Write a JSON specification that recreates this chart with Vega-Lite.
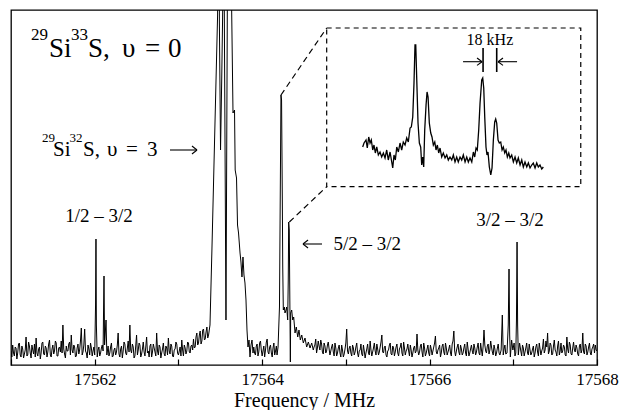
{
  "$schema": "https://vega.github.io/schema/vega-lite/v6.json",
  "width": 586,
  "height": 355,
  "autosize": {"type": "none"},
  "padding": {"left": 11, "top": 10, "right": 24, "bottom": 45},
  "background": "white",
  "config": {
    "view": {"stroke": "black", "strokeWidth": 1.3},
    "font": "Liberation Serif",
    "text": {"font": "Liberation Serif", "color": "black"}
  },
  "layer": [
    {
      "data": {"values": [
        {"f":17561.00,"v":14},{"f":17561.01,"v":8},{"f":17561.02,"v":20},{"f":17561.03,"v":12},{"f":17561.04,"v":9},{"f":17561.05,"v":18},{"f":17561.06,"v":17},{"f":17561.07,"v":6},{"f":17561.08,"v":12},{"f":17561.09,"v":21},
        {"f":17561.10,"v":22},{"f":17561.11,"v":10},{"f":17561.12,"v":8},{"f":17561.13,"v":19},{"f":17561.14,"v":16},{"f":17561.15,"v":7},{"f":17561.16,"v":11},{"f":17561.17,"v":15},{"f":17561.18,"v":28},{"f":17561.19,"v":9},
        {"f":17561.20,"v":10},{"f":17561.21,"v":23},{"f":17561.22,"v":19},{"f":17561.23,"v":12},{"f":17561.24,"v":7},{"f":17561.25,"v":20},{"f":17561.26,"v":15},{"f":17561.27,"v":11},{"f":17561.28,"v":21},{"f":17561.29,"v":8},
        {"f":17561.30,"v":27},{"f":17561.31,"v":12},{"f":17561.32,"v":9},{"f":17561.33,"v":16},{"f":17561.34,"v":18},{"f":17561.35,"v":6},{"f":17561.36,"v":12},{"f":17561.37,"v":22},{"f":17561.38,"v":23},{"f":17561.39,"v":11},
        {"f":17561.40,"v":10},{"f":17561.41,"v":19},{"f":17561.42,"v":17},{"f":17561.43,"v":8},{"f":17561.44,"v":13},{"f":17561.45,"v":21},{"f":17561.46,"v":25},{"f":17561.47,"v":10},{"f":17561.48,"v":8},{"f":17561.49,"v":16},
        {"f":17561.50,"v":20},{"f":17561.51,"v":11},{"f":17561.52,"v":14},{"f":17561.53,"v":24},{"f":17561.54,"v":22},{"f":17561.55,"v":9},{"f":17561.56,"v":9},{"f":17561.57,"v":17},{"f":17561.58,"v":18},{"f":17561.59,"v":13},
        {"f":17561.60,"v":24},{"f":17561.61,"v":12},{"f":17561.62,"v":40},{"f":17561.63,"v":16},{"f":17561.64,"v":11},{"f":17561.65,"v":7},{"f":17561.66,"v":19},{"f":17561.67,"v":14},{"f":17561.68,"v":14},{"f":17561.69,"v":21},
        {"f":17561.70,"v":23},{"f":17561.71,"v":10},{"f":17561.72,"v":30},{"f":17561.73,"v":15},{"f":17561.74,"v":12},{"f":17561.75,"v":20},{"f":17561.76,"v":18},{"f":17561.77,"v":8},{"f":17561.78,"v":9},{"f":17561.79,"v":17},
        {"f":17561.80,"v":21},{"f":17561.81,"v":11},{"f":17561.82,"v":15},{"f":17561.83,"v":24},{"f":17561.84,"v":37},{"f":17561.85,"v":10},{"f":17561.86,"v":13},{"f":17561.87,"v":20},{"f":17561.88,"v":36},{"f":17561.89,"v":14},
        {"f":17561.90,"v":12},{"f":17561.91,"v":7},{"f":17561.92,"v":20},{"f":17561.93,"v":16},{"f":17561.94,"v":10},{"f":17561.95,"v":22},{"f":17561.96,"v":17},{"f":17561.97,"v":9},{"f":17561.98,"v":14},{"f":17561.99,"v":18},
        {"f":17562.00,"v":10},{"f":17562.01,"v":60},{"f":17562.015,"v":126},{"f":17562.02,"v":40},{"f":17562.03,"v":8},{"f":17562.04,"v":15},{"f":17562.05,"v":18},{"f":17562.06,"v":9},{"f":17562.07,"v":12},{"f":17562.08,"v":17},{"f":17562.09,"v":20},{"f":17562.10,"v":14},{"f":17562.105,"v":50},
        {"f":17562.111,"v":89},{"f":17562.118,"v":20},{"f":17562.125,"v":30},{"f":17562.135,"v":45},{"f":17562.145,"v":10},{"f":17562.16,"v":19},
        {"f":17562.17,"v":9},{"f":17562.18,"v":12},{"f":17562.19,"v":18},{"f":17562.20,"v":22},{"f":17562.21,"v":8},{"f":17562.22,"v":9},{"f":17562.23,"v":15},{"f":17562.24,"v":17},{"f":17562.25,"v":10},{"f":17562.26,"v":13},
        {"f":17562.27,"v":20},{"f":17562.28,"v":32},{"f":17562.29,"v":11},{"f":17562.30,"v":8},{"f":17562.31,"v":16},{"f":17562.32,"v":19},{"f":17562.33,"v":7},{"f":17562.34,"v":14},{"f":17562.35,"v":23},{"f":17562.36,"v":21},
        {"f":17562.37,"v":12},{"f":17562.38,"v":10},{"f":17562.39,"v":17},{"f":17562.40,"v":24},{"f":17562.41,"v":13},{"f":17562.42,"v":40},{"f":17562.43,"v":15},{"f":17562.44,"v":12},{"f":17562.45,"v":21},{"f":17562.46,"v":18},
        {"f":17562.47,"v":7},{"f":17562.48,"v":9},{"f":17562.49,"v":19},{"f":17562.50,"v":30},{"f":17562.51,"v":10},{"f":17562.52,"v":15},{"f":17562.53,"v":22},{"f":17562.54,"v":20},{"f":17562.55,"v":8},{"f":17562.56,"v":11},
        {"f":17562.57,"v":16},{"f":17562.58,"v":23},{"f":17562.59,"v":13},{"f":17562.60,"v":9},{"f":17562.61,"v":18},{"f":17562.62,"v":28},{"f":17562.63,"v":12},{"f":17562.64,"v":14},{"f":17562.65,"v":8},{"f":17562.66,"v":19},
        {"f":17562.67,"v":21},{"f":17562.68,"v":8},{"f":17562.69,"v":13},{"f":17562.70,"v":21},{"f":17562.71,"v":17},{"f":17562.72,"v":13},{"f":17562.73,"v":9},{"f":17562.74,"v":32},{"f":17562.75,"v":14},{"f":17562.76,"v":10},
        {"f":17562.77,"v":20},{"f":17562.78,"v":18},{"f":17562.79,"v":7},{"f":17562.80,"v":12},{"f":17562.81,"v":16},{"f":17562.82,"v":22},{"f":17562.83,"v":11},{"f":17562.84,"v":9},{"f":17562.85,"v":19},{"f":17562.86,"v":17},
        {"f":17562.87,"v":10},{"f":17562.88,"v":27},{"f":17562.89,"v":14},{"f":17562.90,"v":11},{"f":17562.91,"v":21},{"f":17562.92,"v":19},{"f":17562.93,"v":9},{"f":17562.94,"v":8},{"f":17562.95,"v":15},{"f":17562.96,"v":16},
        {"f":17562.97,"v":23},{"f":17562.98,"v":21},{"f":17562.99,"v":12},{"f":17563.00,"v":10},{"f":17563.01,"v":14},{"f":17563.02,"v":18},{"f":17563.03,"v":9},{"f":17563.04,"v":25},{"f":17563.05,"v":15},{"f":17563.06,"v":9},
        {"f":17563.07,"v":20},{"f":17563.08,"v":17},{"f":17563.09,"v":11},{"f":17563.10,"v":14},{"f":17563.11,"v":23},{"f":17563.12,"v":22},{"f":17563.13,"v":13},{"f":17563.14,"v":12},{"f":17563.15,"v":19},{"f":17563.16,"v":20},
        {"f":17563.17,"v":15},{"f":17563.18,"v":26},{"f":17563.19,"v":17},{"f":17563.20,"v":18},{"f":17563.21,"v":28},{"f":17563.22,"v":32},{"f":17563.23,"v":20},{"f":17563.24,"v":22},{"f":17563.25,"v":30},{"f":17563.26,"v":34},
        {"f":17563.27,"v":21},{"f":17563.28,"v":24},{"f":17563.29,"v":35},{"f":17563.30,"v":36},{"f":17563.31,"v":25},{"f":17563.32,"v":26},{"f":17563.33,"v":33},{"f":17563.34,"v":38},{"f":17563.35,"v":27},{"f":17563.36,"v":30},
        {"f":17563.377,"v":40},{"f":17563.401,"v":118},{"f":17563.468,"v":350},{"f":17563.478,"v":2365},{"f":17563.489,"v":345},{"f":17563.503,"v":215},{"f":17563.517,"v":285},{"f":17563.529,"v":355},{"f":17563.538,"v":2365},{"f":17563.548,"v":355},
        {"f":17563.568,"v":45},{"f":17563.584,"v":355},{"f":17563.610,"v":2365},{"f":17563.636,"v":355},{"f":17563.652,"v":252},{"f":17563.670,"v":255},{"f":17563.678,"v":195},{"f":17563.694,"v":187},{"f":17563.706,"v":140},{"f":17563.718,"v":132},
        {"f":17563.736,"v":112},{"f":17563.747,"v":103},{"f":17563.759,"v":88},{"f":17563.771,"v":108},{"f":17563.783,"v":90},{"f":17563.795,"v":82},{"f":17563.807,"v":65},{"f":17563.819,"v":35},{"f":17563.831,"v":18},{"f":17563.843,"v":25},
        {"f":17563.855,"v":8},{"f":17563.867,"v":20},{"f":17563.879,"v":25},{"f":17563.891,"v":12},
        {"f":17563.90,"v":18},{"f":17563.91,"v":12},{"f":17563.92,"v":10},{"f":17563.93,"v":19},{"f":17563.94,"v":21},{"f":17563.95,"v":9},{"f":17563.96,"v":13},{"f":17563.97,"v":22},{"f":17563.98,"v":24},{"f":17563.99,"v":15},
        {"f":17564.00,"v":9},{"f":17564.01,"v":14},{"f":17564.02,"v":19},{"f":17564.03,"v":8},{"f":17564.04,"v":15},{"f":17564.05,"v":23},{"f":17564.06,"v":26},{"f":17564.07,"v":13},{"f":17564.08,"v":11},{"f":17564.09,"v":18},
        {"f":17564.10,"v":20},{"f":17564.11,"v":12},{"f":17564.12,"v":8},{"f":17564.13,"v":17},{"f":17564.14,"v":22},{"f":17564.15,"v":10},{"f":17564.16,"v":14},{"f":17564.17,"v":19},
        {"f":17564.178,"v":10},{"f":17564.190,"v":18},{"f":17564.207,"v":58},{"f":17564.216,"v":165},{"f":17564.225,"v":270},{"f":17564.232,"v":265},{"f":17564.241,"v":165},{"f":17564.246,"v":98},{"f":17564.253,"v":55},{"f":17564.265,"v":58},
        {"f":17564.273,"v":52},{"f":17564.285,"v":55},{"f":17564.293,"v":58},{"f":17564.305,"v":45},{"f":17564.312,"v":85},{"f":17564.317,"v":143},{"f":17564.324,"v":135},{"f":17564.329,"v":85},{"f":17564.337,"v":3},{"f":17564.341,"v":52},
        {"f":17564.353,"v":55},{"f":17564.365,"v":45},{"f":17564.377,"v":48},{"f":17564.393,"v":32},{"f":17564.408,"v":38},{"f":17564.425,"v":28},{"f":17564.440,"v":35},{"f":17564.456,"v":25},{"f":17564.473,"v":30},{"f":17564.492,"v":22},
        {"f":17564.512,"v":27},{"f":17564.532,"v":18},{"f":17564.552,"v":23},{"f":17564.572,"v":17},{"f":17564.592,"v":22},{"f":17564.611,"v":15},
        {"f":17564.62,"v":18},{"f":17564.63,"v":20},{"f":17564.64,"v":26},{"f":17564.65,"v":12},{"f":17564.66,"v":17},{"f":17564.67,"v":24},{"f":17564.68,"v":19},{"f":17564.69,"v":15},{"f":17564.70,"v":25},{"f":17564.71,"v":21},
        {"f":17564.72,"v":13},{"f":17564.73,"v":11},{"f":17564.74,"v":22},{"f":17564.75,"v":19},{"f":17564.76,"v":12},{"f":17564.77,"v":14},{"f":17564.78,"v":20},{"f":17564.79,"v":23},{"f":17564.80,"v":16},{"f":17564.81,"v":10},
        {"f":17564.82,"v":14},{"f":17564.83,"v":18},{"f":17564.84,"v":21},{"f":17564.85,"v":13},{"f":17564.86,"v":9},{"f":17564.87,"v":22},{"f":17564.88,"v":17},{"f":17564.89,"v":9},{"f":17564.90,"v":12},{"f":17564.91,"v":17},
        {"f":17564.92,"v":20},{"f":17564.93,"v":12},{"f":17564.94,"v":8},{"f":17564.95,"v":20},{"f":17564.96,"v":15},{"f":17564.97,"v":8},{"f":17564.98,"v":11},{"f":17564.99,"v":16},
        {"f":17565.00,"v":22},{"f":17565.01,"v":36},{"f":17565.02,"v":14},{"f":17565.03,"v":11},{"f":17565.04,"v":17},{"f":17565.05,"v":19},{"f":17565.06,"v":12},{"f":17565.07,"v":9},{"f":17565.08,"v":20},{"f":17565.09,"v":17},
        {"f":17565.10,"v":10},{"f":17565.11,"v":13},{"f":17565.12,"v":18},{"f":17565.13,"v":22},{"f":17565.14,"v":12},{"f":17565.15,"v":8},{"f":17565.16,"v":14},{"f":17565.17,"v":15},{"f":17565.18,"v":21},{"f":17565.19,"v":11},
        {"f":17565.20,"v":9},{"f":17565.21,"v":20},{"f":17565.22,"v":14},{"f":17565.23,"v":7},{"f":17565.24,"v":12},{"f":17565.25,"v":16},{"f":17565.26,"v":21},{"f":17565.27,"v":12},{"f":17565.28,"v":10},{"f":17565.29,"v":24},
        {"f":17565.30,"v":15},{"f":17565.31,"v":9},{"f":17565.32,"v":13},{"f":17565.33,"v":17},{"f":17565.34,"v":22},{"f":17565.35,"v":14},{"f":17565.36,"v":10},{"f":17565.37,"v":21},{"f":17565.38,"v":16},{"f":17565.39,"v":10},
        {"f":17565.40,"v":13},{"f":17565.41,"v":18},{"f":17565.42,"v":23},{"f":17565.43,"v":30},{"f":17565.44,"v":13},{"f":17565.45,"v":12},{"f":17565.46,"v":18},{"f":17565.47,"v":19},{"f":17565.48,"v":10},{"f":17565.49,"v":8},
        {"f":17565.50,"v":14},{"f":17565.51,"v":15},{"f":17565.52,"v":20},{"f":17565.53,"v":22},{"f":17565.54,"v":11},{"f":17565.55,"v":10},{"f":17565.56,"v":19},{"f":17565.57,"v":17},{"f":17565.58,"v":9},{"f":17565.59,"v":13},
        {"f":17565.60,"v":18},{"f":17565.61,"v":21},{"f":17565.62,"v":12},{"f":17565.63,"v":9},{"f":17565.64,"v":16},{"f":17565.65,"v":18},{"f":17565.66,"v":22},{"f":17565.67,"v":12},{"f":17565.68,"v":9},{"f":17565.69,"v":23},
        {"f":17565.70,"v":17},{"f":17565.71,"v":10},{"f":17565.72,"v":14},{"f":17565.73,"v":16},{"f":17565.74,"v":21},{"f":17565.75,"v":14},{"f":17565.76,"v":9},{"f":17565.77,"v":20},{"f":17565.78,"v":15},{"f":17565.79,"v":8},
        {"f":17565.80,"v":12},{"f":17565.81,"v":17},{"f":17565.82,"v":19},{"f":17565.83,"v":12},{"f":17565.84,"v":14},{"f":17565.85,"v":31},{"f":17565.86,"v":15},{"f":17565.87,"v":10},{"f":17565.88,"v":13},{"f":17565.89,"v":19},
        {"f":17565.90,"v":21},{"f":17565.91,"v":13},{"f":17565.92,"v":8},{"f":17565.93,"v":22},{"f":17565.94,"v":17},{"f":17565.95,"v":9},{"f":17565.96,"v":12},{"f":17565.97,"v":16},{"f":17565.98,"v":20},{"f":17565.99,"v":12},
        {"f":17566.00,"v":9},{"f":17566.01,"v":20},{"f":17566.02,"v":16},{"f":17566.03,"v":10},{"f":17566.04,"v":14},{"f":17566.05,"v":18},{"f":17566.06,"v":22},{"f":17566.07,"v":29},{"f":17566.08,"v":13},{"f":17566.09,"v":11},
        {"f":17566.10,"v":15},{"f":17566.11,"v":17},{"f":17566.12,"v":20},{"f":17566.13,"v":8},{"f":17566.14,"v":12},{"f":17566.15,"v":19},{"f":17566.16,"v":21},{"f":17566.17,"v":13},{"f":17566.18,"v":10},{"f":17566.19,"v":22},
        {"f":17566.20,"v":17},{"f":17566.21,"v":10},{"f":17566.22,"v":13},{"f":17566.23,"v":16},{"f":17566.24,"v":20},{"f":17566.25,"v":12},{"f":17566.26,"v":9},{"f":17566.27,"v":21},{"f":17566.28,"v":24},{"f":17566.29,"v":34},
        {"f":17566.30,"v":14},{"f":17566.31,"v":9},{"f":17566.32,"v":14},{"f":17566.33,"v":18},{"f":17566.34,"v":21},{"f":17566.35,"v":13},{"f":17566.36,"v":10},{"f":17566.37,"v":20},{"f":17566.38,"v":16},{"f":17566.39,"v":10},
        {"f":17566.40,"v":12},{"f":17566.41,"v":17},{"f":17566.42,"v":21},{"f":17566.43,"v":12},{"f":17566.44,"v":9},{"f":17566.45,"v":23},{"f":17566.46,"v":16},{"f":17566.47,"v":9},{"f":17566.48,"v":12},{"f":17566.49,"v":16},
        {"f":17566.50,"v":20},{"f":17566.51,"v":14},{"f":17566.52,"v":11},{"f":17566.53,"v":21},{"f":17566.54,"v":17},{"f":17566.55,"v":10},{"f":17566.56,"v":13},{"f":17566.57,"v":18},{"f":17566.58,"v":22},{"f":17566.59,"v":12},
        {"f":17566.60,"v":10},{"f":17566.61,"v":22},{"f":17566.62,"v":15},{"f":17566.63,"v":9},{"f":17566.64,"v":19},{"f":17566.65,"v":35},{"f":17566.66,"v":20},{"f":17566.67,"v":14},{"f":17566.68,"v":12},{"f":17566.69,"v":19},
        {"f":17566.70,"v":21},{"f":17566.71,"v":11},{"f":17566.72,"v":15},{"f":17566.73,"v":24},{"f":17566.74,"v":18},{"f":17566.75,"v":13},{"f":17566.76,"v":10},{"f":17566.77,"v":20},{"f":17566.78,"v":16},{"f":17566.79,"v":9},
        {"f":17566.80,"v":12},{"f":17566.81,"v":17},{"f":17566.82,"v":21},{"f":17566.83,"v":12},{"f":17566.84,"v":10},
        {"f":17566.855,"v":15},{"f":17566.869,"v":50},{"f":17566.88,"v":10},{"f":17566.89,"v":16},{"f":17566.90,"v":20},{"f":17566.91,"v":11},{"f":17566.925,"v":12},{"f":17566.94,"v":40},{"f":17566.949,"v":96},{"f":17566.957,"v":30},{"f":17566.965,"v":8},{"f":17566.98,"v":25},
        {"f":17566.995,"v":15},{"f":17567.01,"v":22},{"f":17567.02,"v":9},{"f":17567.03,"v":12},{"f":17567.038,"v":45},{"f":17567.045,"v":123},{"f":17567.052,"v":40},{"f":17567.06,"v":10},{"f":17567.075,"v":22},
        {"f":17567.09,"v":14},{"f":17567.10,"v":9},{"f":17567.11,"v":20},{"f":17567.12,"v":17},{"f":17567.13,"v":9},{"f":17567.14,"v":13},{"f":17567.15,"v":17},{"f":17567.16,"v":22},{"f":17567.17,"v":12},{"f":17567.18,"v":10},
        {"f":17567.19,"v":21},{"f":17567.20,"v":15},{"f":17567.21,"v":10},{"f":17567.22,"v":12},{"f":17567.23,"v":16},{"f":17567.24,"v":19},{"f":17567.25,"v":8},{"f":17567.26,"v":12},{"f":17567.27,"v":18},{"f":17567.28,"v":21},
        {"f":17567.29,"v":13},{"f":17567.30,"v":9},{"f":17567.31,"v":22},{"f":17567.32,"v":16},{"f":17567.33,"v":10},{"f":17567.34,"v":14},{"f":17567.35,"v":17},{"f":17567.36,"v":26},{"f":17567.37,"v":12},{"f":17567.38,"v":15},
        {"f":17567.39,"v":24},{"f":17567.40,"v":18},{"f":17567.41,"v":32},{"f":17567.42,"v":11},{"f":17567.43,"v":14},{"f":17567.44,"v":22},{"f":17567.45,"v":20},{"f":17567.46,"v":10},{"f":17567.47,"v":11},{"f":17567.48,"v":19},
        {"f":17567.49,"v":25},{"f":17567.50,"v":15},{"f":17567.51,"v":13},{"f":17567.52,"v":9},{"f":17567.53,"v":19},{"f":17567.54,"v":24},{"f":17567.55,"v":10},{"f":17567.56,"v":14},{"f":17567.57,"v":22},{"f":17567.58,"v":12},
        {"f":17567.59,"v":14},{"f":17567.60,"v":20},{"f":17567.61,"v":18},{"f":17567.62,"v":10},{"f":17567.63,"v":9},{"f":17567.64,"v":28},{"f":17567.65,"v":16},{"f":17567.66,"v":12},{"f":17567.67,"v":23},{"f":17567.68,"v":20},
        {"f":17567.69,"v":11},{"f":17567.70,"v":10},{"f":17567.71,"v":17},{"f":17567.72,"v":23},{"f":17567.73,"v":15},{"f":17567.74,"v":13},{"f":17567.75,"v":20},{"f":17567.76,"v":17},{"f":17567.77,"v":11},{"f":17567.78,"v":9},
        {"f":17567.79,"v":19},{"f":17567.80,"v":21},{"f":17567.81,"v":12},{"f":17567.82,"v":15},{"f":17567.83,"v":32},{"f":17567.84,"v":13},{"f":17567.85,"v":11},{"f":17567.86,"v":21},{"f":17567.87,"v":19},{"f":17567.88,"v":10},
        {"f":17567.89,"v":13},{"f":17567.90,"v":18},{"f":17567.91,"v":22},{"f":17567.92,"v":12},{"f":17567.93,"v":10},{"f":17567.94,"v":16},{"f":17567.95,"v":18},{"f":17567.96,"v":21},{"f":17567.97,"v":12},{"f":17567.98,"v":20},
        {"f":17567.99,"v":15},{"f":17568.00,"v":14}
      ]},
      "mark": {"type": "line", "color": "black", "strokeWidth": 1.0, "clip": true},
      "encoding": {
        "x": {
          "field": "f", "type": "quantitative", "sort": null, "title": "Frequency / MHz",
          "scale": {"domain": [17561, 17568], "nice": false, "zero": false},
          "axis": {
            "values": [17561, 17562, 17563, 17564, 17565, 17566, 17567, 17568],
            "format": "d",
            "labelExpr": "datum.value % 2 == 0 ? datum.label : ''",
            "labelFlush": false, "labelOverlap": false, "labelBound": false,
            "domain": false, "grid": false,
            "tickSize": -6, "tickColor": "black", "tickWidth": 1.2,
            "labelFont": "Liberation Serif", "labelFontSize": 17, "labelColor": "black", "labelPadding": 12,
            "titleFont": "Liberation Serif", "titleFontSize": 20, "titleFontWeight": "normal", "titleColor": "black", "titlePadding": 3
          }
        },
        "y": {
          "field": "v", "type": "quantitative",
          "scale": {"domain": [0, 355], "nice": false, "zero": false},
          "axis": null
        }
      }
    },
    {
      "data": {"values": [
        {"f":17565.201,"v":218},{"f":17565.217,"v":222},{"f":17565.241,"v":225},{"f":17565.256,"v":217},{"f":17565.273,"v":228},{"f":17565.289,"v":222},{"f":17565.304,"v":225},{"f":17565.321,"v":215},{"f":17565.336,"v":220},{"f":17565.352,"v":212},
        {"f":17565.369,"v":218},{"f":17565.388,"v":210},{"f":17565.408,"v":213},{"f":17565.428,"v":208},{"f":17565.448,"v":212},{"f":17565.468,"v":207},{"f":17565.488,"v":215},{"f":17565.507,"v":205},{"f":17565.528,"v":213},{"f":17565.548,"v":203},
        {"f":17565.560,"v":197},{"f":17565.575,"v":210},{"f":17565.591,"v":205},{"f":17565.608,"v":218},{"f":17565.627,"v":213},{"f":17565.647,"v":222},{"f":17565.667,"v":215},{"f":17565.686,"v":223},{"f":17565.707,"v":220},{"f":17565.727,"v":227},
        {"f":17565.746,"v":223},{"f":17565.767,"v":237},{"f":17565.782,"v":238},{"f":17565.799,"v":248},{"f":17565.814,"v":282},{"f":17565.826,"v":320},{"f":17565.835,"v":320},{"f":17565.847,"v":285},{"f":17565.862,"v":242},{"f":17565.878,"v":222},
        {"f":17565.894,"v":218},{"f":17565.906,"v":200},{"f":17565.918,"v":208},{"f":17565.930,"v":198},{"f":17565.942,"v":235},{"f":17565.958,"v":260},{"f":17565.970,"v":273},{"f":17565.982,"v":268},{"f":17565.997,"v":242},{"f":17566.014,"v":232},
        {"f":17566.029,"v":228},{"f":17566.045,"v":220},{"f":17566.062,"v":223},{"f":17566.077,"v":215},{"f":17566.093,"v":220},{"f":17566.109,"v":212},{"f":17566.125,"v":217},{"f":17566.145,"v":208},{"f":17566.164,"v":212},{"f":17566.185,"v":207},
        {"f":17566.205,"v":210},{"f":17566.224,"v":205},{"f":17566.244,"v":208},{"f":17566.265,"v":205},{"f":17566.284,"v":210},{"f":17566.304,"v":203},{"f":17566.324,"v":208},{"f":17566.343,"v":203},{"f":17566.364,"v":208},{"f":17566.384,"v":205},
        {"f":17566.403,"v":210},{"f":17566.424,"v":203},{"f":17566.444,"v":208},{"f":17566.463,"v":203},{"f":17566.483,"v":207},{"f":17566.504,"v":203},{"f":17566.523,"v":213},{"f":17566.539,"v":208},{"f":17566.555,"v":217},{"f":17566.570,"v":215},
        {"f":17566.587,"v":235},{"f":17566.603,"v":262},{"f":17566.623,"v":285},{"f":17566.635,"v":287},{"f":17566.647,"v":277},{"f":17566.659,"v":248},{"f":17566.674,"v":218},{"f":17566.686,"v":210},{"f":17566.698,"v":213},{"f":17566.714,"v":198},
        {"f":17566.731,"v":190},{"f":17566.746,"v":197},{"f":17566.762,"v":225},{"f":17566.778,"v":243},{"f":17566.790,"v":246},{"f":17566.802,"v":242},{"f":17566.818,"v":225},{"f":17566.833,"v":222},{"f":17566.850,"v":223},{"f":17566.866,"v":215},
        {"f":17566.881,"v":218},{"f":17566.898,"v":212},{"f":17566.913,"v":215},{"f":17566.929,"v":208},{"f":17566.946,"v":212},{"f":17566.961,"v":207},{"f":17566.981,"v":210},{"f":17567.001,"v":203},{"f":17567.021,"v":208},{"f":17567.041,"v":202},
        {"f":17567.060,"v":207},{"f":17567.081,"v":200},{"f":17567.101,"v":205},{"f":17567.120,"v":198},{"f":17567.140,"v":203},{"f":17567.161,"v":198},{"f":17567.180,"v":202},{"f":17567.200,"v":197},{"f":17567.220,"v":200},{"f":17567.239,"v":202},
        {"f":17567.260,"v":197},{"f":17567.280,"v":202},{"f":17567.299,"v":198},{"f":17567.319,"v":200},{"f":17567.340,"v":196},{"f":17567.359,"v":198}
      ]},
      "mark": {"type": "line", "color": "black", "strokeWidth": 1.3},
      "encoding": {
        "x": {"field": "f", "type": "quantitative", "sort": null, "title": "Frequency / MHz"},
        "y": {"field": "v", "type": "quantitative", "axis": null}
      }
    },
    {
      "data": {"values": [{"f1": 17564.771, "f2": 17567.806, "v1": 178.3, "v2": 337}]},
      "mark": {"type": "rect", "fillOpacity": 0, "stroke": "black", "strokeWidth": 1.2, "strokeDash": [5, 4]},
      "encoding": {
        "x": {"field": "f1", "type": "quantitative", "title": "Frequency / MHz"},
        "x2": {"field": "f2"},
        "y": {"field": "v1", "type": "quantitative", "axis": null},
        "y2": {"field": "v2"}
      }
    },
    {
      "data": {"values": [
        {"f1": 17564.225, "v1": 270, "f2": 17564.771, "v2": 337},
        {"f1": 17564.325, "v1": 143, "f2": 17564.771, "v2": 178.3}
      ]},
      "mark": {"type": "rule", "color": "black", "strokeWidth": 1.2, "strokeDash": [6, 4]},
      "encoding": {
        "x": {"field": "f1", "type": "quantitative", "title": "Frequency / MHz"},
        "x2": {"field": "f2"},
        "y": {"field": "v1", "type": "quantitative", "axis": null},
        "y2": {"field": "v2"}
      }
    },
    {
      "data": {"values": [
        {"f1": 17566.639, "v1": 293, "v2": 317},
        {"f1": 17566.802, "v1": 293, "v2": 317}
      ]},
      "mark": {"type": "rule", "color": "black", "strokeWidth": 1.6},
      "encoding": {
        "x": {"field": "f1", "type": "quantitative", "title": "Frequency / MHz"},
        "y": {"field": "v1", "type": "quantitative", "axis": null},
        "y2": {"field": "v2"}
      }
    },
    {
      "data": {"values": [
        {"f1": 17562.899, "v1": 215, "f2": 17563.222, "v2": 215},
        {"f1": 17563.162, "v1": 219, "f2": 17563.222, "v2": 215},
        {"f1": 17563.162, "v1": 211, "f2": 17563.222, "v2": 215},
        {"f1": 17564.488, "v1": 121, "f2": 17564.715, "v2": 121},
        {"f1": 17564.548, "v1": 125, "f2": 17564.488, "v2": 121},
        {"f1": 17564.548, "v1": 117, "f2": 17564.488, "v2": 121},
        {"f1": 17566.400, "v1": 303.3, "f2": 17566.627, "v2": 303.3},
        {"f1": 17566.567, "v1": 307, "f2": 17566.627, "v2": 303.3},
        {"f1": 17566.567, "v1": 299.6, "f2": 17566.627, "v2": 303.3},
        {"f1": 17566.818, "v1": 303.3, "f2": 17567.045, "v2": 303.3},
        {"f1": 17566.877, "v1": 307, "f2": 17566.818, "v2": 303.3},
        {"f1": 17566.877, "v1": 299.6, "f2": 17566.818, "v2": 303.3}
      ]},
      "mark": {"type": "rule", "color": "black", "strokeWidth": 1.1},
      "encoding": {
        "x": {"field": "f1", "type": "quantitative", "title": "Frequency / MHz"},
        "x2": {"field": "f2"},
        "y": {"field": "v1", "type": "quantitative", "axis": null},
        "y2": {"field": "v2"}
      }
    },
    {
      "data": {"values": [
        {"t": "Si", "f": 17561.454, "v": 308},
        {"t": "S,", "f": 17561.920, "v": 308},
        {"t": "υ", "f": 17562.326, "v": 308},
        {"t": "=", "f": 17562.601, "v": 308},
        {"t": "0", "f": 17562.876, "v": 308}
      ]},
      "mark": {"type": "text", "font": "Liberation Serif", "fontSize": 27, "align": "left", "baseline": "alphabetic", "color": "black"},
      "encoding": {
        "x": {"field": "f", "type": "quantitative", "title": "Frequency / MHz"},
        "y": {"field": "v", "type": "quantitative", "axis": null},
        "text": {"field": "t"}
      }
    },
    {
      "data": {"values": [
        {"t": "29", "f": 17561.239, "v": 325},
        {"t": "33", "f": 17561.717, "v": 325}
      ]},
      "mark": {"type": "text", "font": "Liberation Serif", "fontSize": 17, "align": "left", "baseline": "alphabetic", "color": "black"},
      "encoding": {
        "x": {"field": "f", "type": "quantitative", "title": "Frequency / MHz"},
        "y": {"field": "v", "type": "quantitative", "axis": null},
        "text": {"field": "t"}
      }
    },
    {
      "data": {"values": [
        {"t": "Si", "f": 17561.502, "v": 209},
        {"t": "S,", "f": 17561.860, "v": 209},
        {"t": "υ", "f": 17562.147, "v": 209},
        {"t": "=", "f": 17562.374, "v": 209},
        {"t": "3", "f": 17562.625, "v": 209}
      ]},
      "mark": {"type": "text", "font": "Liberation Serif", "fontSize": 21, "align": "left", "baseline": "alphabetic", "color": "black"},
      "encoding": {
        "x": {"field": "f", "type": "quantitative", "title": "Frequency / MHz"},
        "y": {"field": "v", "type": "quantitative", "axis": null},
        "text": {"field": "t"}
      }
    },
    {
      "data": {"values": [
        {"t": "29", "f": 17561.370, "v": 223},
        {"t": "32", "f": 17561.699, "v": 223}
      ]},
      "mark": {"type": "text", "font": "Liberation Serif", "fontSize": 13, "align": "left", "baseline": "alphabetic", "color": "black"},
      "encoding": {
        "x": {"field": "f", "type": "quantitative", "title": "Frequency / MHz"},
        "y": {"field": "v", "type": "quantitative", "axis": null},
        "text": {"field": "t"}
      }
    },
    {
      "data": {"values": [
        {"t": "1/2 – 3/2", "f": 17562.051, "v": 143},
        {"t": "3/2 – 3/2", "f": 17566.961, "v": 139},
        {"t": "5/2 – 3/2", "f": 17565.255, "v": 115}
      ]},
      "mark": {"type": "text", "font": "Liberation Serif", "fontSize": 19, "align": "center", "baseline": "alphabetic", "color": "black"},
      "encoding": {
        "x": {"field": "f", "type": "quantitative", "title": "Frequency / MHz"},
        "y": {"field": "v", "type": "quantitative", "axis": null},
        "text": {"field": "t"}
      }
    },
    {
      "data": {"values": [
        {"t": "18 kHz", "f": 17566.721, "v": 320}
      ]},
      "mark": {"type": "text", "font": "Liberation Serif", "fontSize": 16, "align": "center", "baseline": "alphabetic", "color": "black"},
      "encoding": {
        "x": {"field": "f", "type": "quantitative", "title": "Frequency / MHz"},
        "y": {"field": "v", "type": "quantitative", "axis": null},
        "text": {"field": "t"}
      }
    }
  ]
}
